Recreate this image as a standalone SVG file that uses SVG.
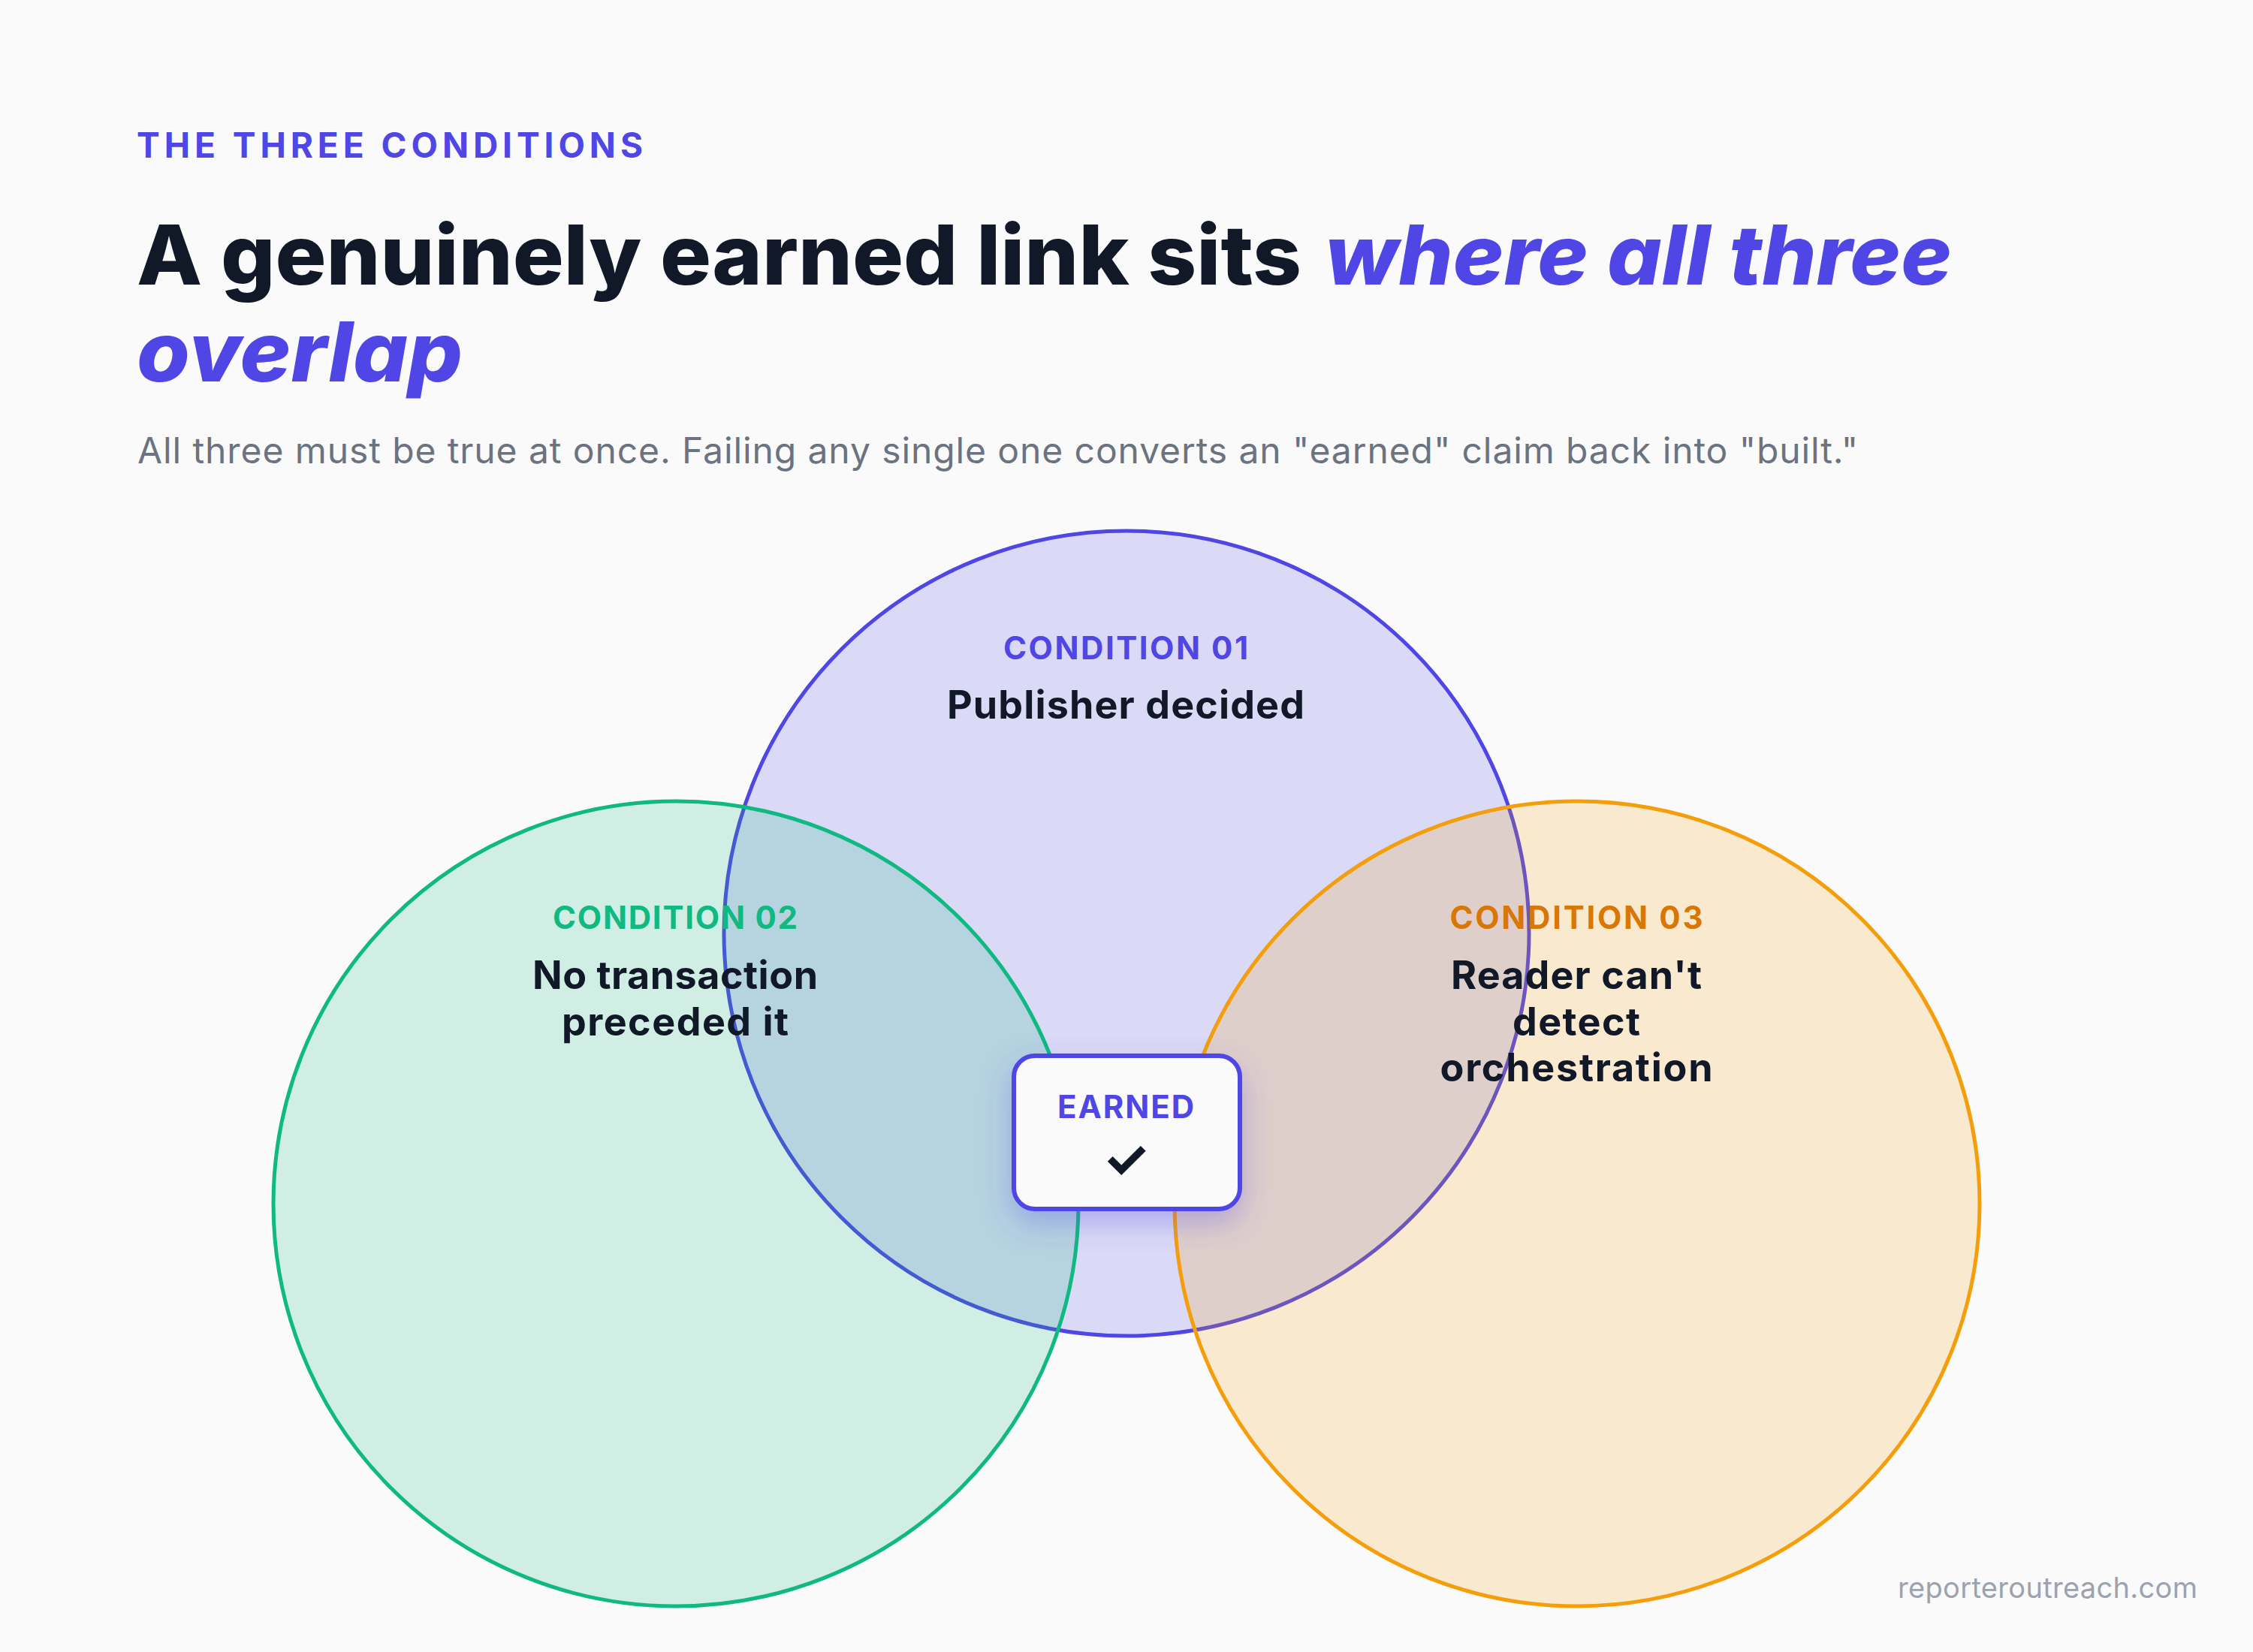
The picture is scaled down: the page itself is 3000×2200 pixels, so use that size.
<svg xmlns="http://www.w3.org/2000/svg" width="3000" height="2200" viewBox="0 0 3000 2200">
<defs>
<style>
text{font-family:Inter,"Liberation Sans","DejaVu Sans",sans-serif}
.eyebrow{font-weight:700;font-size:46px;fill:#4f46e5}
.title{font-weight:800;font-size:110px;fill:#111827}
.accent{fill:#4f46e5;font-style:italic}
.sub{font-weight:400;font-size:48px;fill:#6b7280}
.cl{font-weight:700;font-size:42px;text-anchor:middle}
.ct{font-weight:700;font-size:52px;fill:#111827;text-anchor:middle}
.c1{fill:#4f46e5}
.c2{fill:#10b981}
.c3{fill:#d97706}
.circ{stroke-width:5}
.foot{font-weight:400;font-size:38px;fill:#9ca3af;text-anchor:end}
</style>
<filter id="sh" x="-40%" y="-40%" width="180%" height="190%">
<feDropShadow dx="0" dy="16" stdDeviation="20" flood-color="#4f46e5" flood-opacity="0.32"/>
</filter>
</defs>
<rect width="3000" height="2200" fill="#fafafa"/>

<g id="header">
<text class="eyebrow" x="182" y="210" textLength="674">THE THREE CONDITIONS</text>
<text class="title" x="182" y="379" textLength="1551" lengthAdjust="spacingAndGlyphs">A genuinely earned link sits</text>
<text class="title accent" x="1764" y="379" textLength="835" lengthAdjust="spacingAndGlyphs">where all three</text>
<text class="title accent" x="182" y="508" textLength="434" lengthAdjust="spacingAndGlyphs">overlap</text>
<text class="sub" x="183" y="617" textLength="2291">All three must be true at once. Failing any single one converts an "earned" claim back into "built."</text>
</g>

<g id="circles">
<circle id="circle-01" class="circ" cx="1500" cy="1243" r="536" fill="#4f46e5" fill-opacity="0.18" stroke="#4f46e5"/>
<circle id="circle-02" class="circ" cx="900" cy="1603" r="536" fill="#10b981" fill-opacity="0.18" stroke="#10b981"/>
<circle id="circle-03" class="circ" cx="2100" cy="1603" r="536" fill="#f59e0b" fill-opacity="0.18" stroke="#f59e0b"/>
</g>

<g id="condition-01">
<text class="cl c1" x="1499" y="878" textLength="326">CONDITION 01</text>
<text class="ct" x="1499" y="957" textLength="476">Publisher decided</text>
</g>
<g id="condition-02">
<text class="cl c2" x="899" y="1237" textLength="326">CONDITION 02</text>
<text class="ct" x="899" y="1317" textLength="380">No transaction</text>
<text class="ct" x="899" y="1379" textLength="302">preceded it</text>
</g>
<g id="condition-03">
<text class="cl c3" x="2099" y="1237" textLength="337">CONDITION 03</text>
<text class="ct" x="2099" y="1317" textLength="334">Reader can't</text>
<text class="ct" x="2099" y="1379" textLength="170">detect</text>
<text class="ct" x="2099" y="1440" textLength="363">orchestration</text>
</g>

<g id="earned">
<rect x="1350" y="1406" width="301" height="204" rx="28" fill="#fafafa" stroke="#4f46e5" stroke-width="6" filter="url(#sh)"/>
<text class="cl c1" x="1499" y="1489" textLength="182">EARNED</text>
<text x="1499" y="1568" font-family="'DejaVu Sans',sans-serif" font-weight="700" font-size="70" fill="#111827" text-anchor="middle">✓</text>
</g>

<g id="connectors"></g>

<text class="foot" x="2926" y="2128" textLength="399">reporteroutreach.com</text>
</svg>
